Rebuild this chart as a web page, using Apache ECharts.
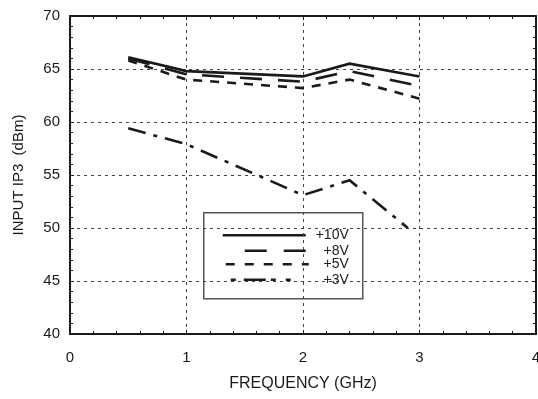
<!DOCTYPE html>
<html>
<head>
<meta charset="utf-8">
<script src="https://cdn.jsdelivr.net/npm/echarts@6/dist/echarts.min.js"></script>
<style>
html,body{margin:0;padding:0;background:#fff;}
#c{width:538px;height:399px;}
</style>
</head>
<body>
<div id="c"></div>
<script>
// Data (frequency in GHz, input IP3 in dBm)
const freqs = [0.5, 1, 2, 2.4, 3];
const freqs3V = [0.5, 1, 2, 2.4, 2.9];
const ip3_10V = [66.1, 64.8, 64.3, 65.5, 64.3];
const ip3_8V = [66.0, 64.5, 63.8, 64.8, 63.4];
const ip3_5V = [65.8, 64.0, 63.2, 64.0, 62.2];
const ip3_3V = [59.4, 57.9, 53.1, 54.5, 50.0];
const seriesNames = ['+10V', '+8V', '+5V', '+3V'];
const xTicks = [0, 1, 2, 3, 4];
const yTicks = [40, 45, 50, 55, 60, 65, 70];

const FONT = '"Liberation Sans", Arial, sans-serif';
const INK = '#1a1a1a';

function pairs(xs, ys) { return xs.map((x, i) => [x, ys[i]]); }

const chart = echarts.init(document.getElementById('c'), null, {renderer: 'canvas'});

const gridLine = {show: true, lineStyle: {color: '#444', width: 1, type: [3, 4]}};
const axisCommon = {
  axisLine: {show: true, onZero: false, lineStyle: {color: INK, width: 2}},
  axisTick: {show: true, inside: true, length: 4, lineStyle: {color: INK, width: 1}},
  minorTick: {show: true, splitNumber: 5, length: 3, lineStyle: {color: INK, width: 1}}
};

const dashes = ['solid', [22, 16], [9, 8], [18, 8, 4, 8]];
const datas = [pairs(freqs, ip3_10V), pairs(freqs, ip3_8V), pairs(freqs, ip3_5V), pairs(freqs3V, ip3_3V)];

chart.setOption({
  backgroundColor: '#fff',
  animation: false,
  grid: {left: 70, right: 2, top: 16, bottom: 65, containLabel: false, outerBoundsMode: 'none'},
  xAxis: [
    Object.assign({
      type: 'value', min: xTicks[0], max: xTicks[xTicks.length - 1], interval: 1, position: 'bottom',
      name: 'FREQUENCY (GHz)', nameLocation: 'middle', nameGap: 42, nameMoveOverlap: false,
      nameTextStyle: {fontFamily: FONT, fontSize: 16, color: INK},
      axisLabel: {show: true, fontFamily: FONT, fontSize: 15, color: INK, margin: 16,
        formatter: v => xTicks.includes(v) ? String(v) : ''},
      splitLine: gridLine
    }, axisCommon),
    Object.assign({
      type: 'value', min: xTicks[0], max: xTicks[xTicks.length - 1], interval: 1, position: 'top',
      axisLabel: {show: false}, splitLine: {show: false}
    }, axisCommon)
  ],
  yAxis: [
    Object.assign({
      type: 'value', min: yTicks[0], max: yTicks[yTicks.length - 1], interval: 5, position: 'left',
      name: 'INPUT IP3  (dBm)', nameLocation: 'middle', nameGap: 44, nameRotate: 90, nameMoveOverlap: false,
      nameTextStyle: {fontFamily: FONT, fontSize: 15, color: INK},
      axisLabel: {show: true, fontFamily: FONT, fontSize: 15, color: INK, margin: 10,
        formatter: v => yTicks.includes(v) ? String(v) : ''},
      splitLine: gridLine
    }, axisCommon),
    Object.assign({
      type: 'value', min: yTicks[0], max: yTicks[yTicks.length - 1], interval: 5, position: 'right',
      axisLabel: {show: false}, splitLine: {show: false}
    }, axisCommon)
  ],
  series: seriesNames.map((n, i) => ({
    name: n, type: 'line', data: datas[i], symbol: 'none', smooth: false,
    lineStyle: {color: INK, width: 2.6, type: dashes[i], cap: 'butt', join: 'miter'},
    z: 3
  })),
  graphic: [{
    type: 'group', left: 203, top: 212, z: 100,
    children: [
      {type: 'rect', shape: {x: 0, y: 0, width: 159, height: 86},
       style: {fill: '#fff', stroke: '#555', lineWidth: 1.5}},
      {type: 'line', shape: {x1: 19, y1: 22.5, x2: 102, y2: 22.5}, style: {stroke: INK, lineWidth: 2.6}},
      {type: 'line', shape: {x1: 41, y1: 38, x2: 102, y2: 38}, style: {stroke: INK, lineWidth: 2.6, lineDash: [22, 17]}},
      {type: 'line', shape: {x1: 22, y1: 51.5, x2: 105, y2: 51.5}, style: {stroke: INK, lineWidth: 2.6, lineDash: [9, 10]}},
      {type: 'line', shape: {x1: 27, y1: 67, x2: 94, y2: 67}, style: {stroke: INK, lineWidth: 2.6, lineDash: [5, 8, 22, 5, 5, 10]}},
      {type: 'text', x: 145, y: 22.5, style: {text: seriesNames[0], fontFamily: FONT, fontSize: 14, fill: INK, align: 'right', verticalAlign: 'middle'}},
      {type: 'text', x: 145, y: 38, style: {text: seriesNames[1], fontFamily: FONT, fontSize: 14, fill: INK, align: 'right', verticalAlign: 'middle'}},
      {type: 'text', x: 145, y: 51.5, style: {text: seriesNames[2], fontFamily: FONT, fontSize: 14, fill: INK, align: 'right', verticalAlign: 'middle'}},
      {type: 'text', x: 145, y: 67, style: {text: seriesNames[3], fontFamily: FONT, fontSize: 14, fill: INK, align: 'right', verticalAlign: 'middle'}}
    ]
  }]
});
</script>
</body>
</html>
